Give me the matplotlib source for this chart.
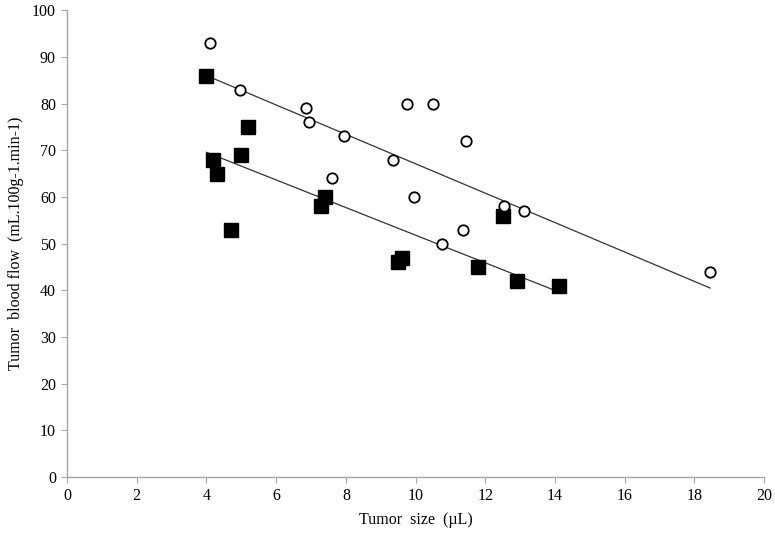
import matplotlib
matplotlib.use("Agg")
import matplotlib.pyplot as plt
import numpy as np

# open circles
circ_x = [4.1, 4.95, 6.85, 6.95, 7.95, 7.6, 9.35, 9.75, 10.5, 11.45, 9.95, 10.75, 11.35, 12.55, 13.1, 18.45]
circ_y = [93, 83, 79, 76, 73, 64, 68, 80, 80, 72, 60, 50, 53, 58, 57, 44]
# filled squares
sq_x = [4.0, 4.2, 4.3, 4.7, 5.0, 5.2, 7.3, 7.4, 9.5, 9.6, 11.8, 12.5, 12.9, 14.1]
sq_y = [86, 68, 65, 53, 69, 75, 58, 60, 46, 47, 45, 56, 42, 41]
# trend lines (slope, intercept)
circ_trend = (-3.15, 98.6)
sq_trend = (-2.96, 81.4)

plt.rcParams['font.family'] = ['Liberation Serif', 'DejaVu Serif']

fig = plt.figure(figsize=(7.75, 5.37), dpi=100)
ax = fig.add_axes([0.0865, 0.1117, 0.8995, 0.8693])

gray = '#a6a6a6'
for s in ['top', 'right']:
    ax.spines[s].set_visible(False)
for s in ['left', 'bottom']:
    ax.spines[s].set_color(gray)
    ax.spines[s].set_linewidth(1.0)

lx = np.array([4.0, max(circ_x)])
ax.plot(lx, circ_trend[0] * lx + circ_trend[1], color='#333333', lw=0.9, zorder=1)
lx2 = np.array([min(sq_x), max(sq_x)])
ax.plot(lx2, sq_trend[0] * lx2 + sq_trend[1], color='#333333', lw=0.9, zorder=1)

ax.plot(circ_x, circ_y, 'o', ms=7.5, mfc='white', mec='black', mew=1.3, zorder=3, linestyle='none')
ax.plot(sq_x, sq_y, 's', ms=10, mfc='black', mec='black', zorder=2, linestyle='none')

ax.set_xlim(0, 20)
ax.set_ylim(0, 100)
ax.set_xticks(np.arange(0, 21, 2))
ax.set_yticks(np.arange(0, 101, 10))
ax.tick_params(direction='out', length=4, color=gray, labelsize=11.5, pad=4)

ax.set_xlabel('Tumor  size  (µL)', fontsize=11.5, labelpad=6)
ax.set_ylabel('Tumor  blood flow  (mL.100g-1.min-1)', fontsize=11.5, labelpad=6)

fig.savefig('out.png', dpi=100)
